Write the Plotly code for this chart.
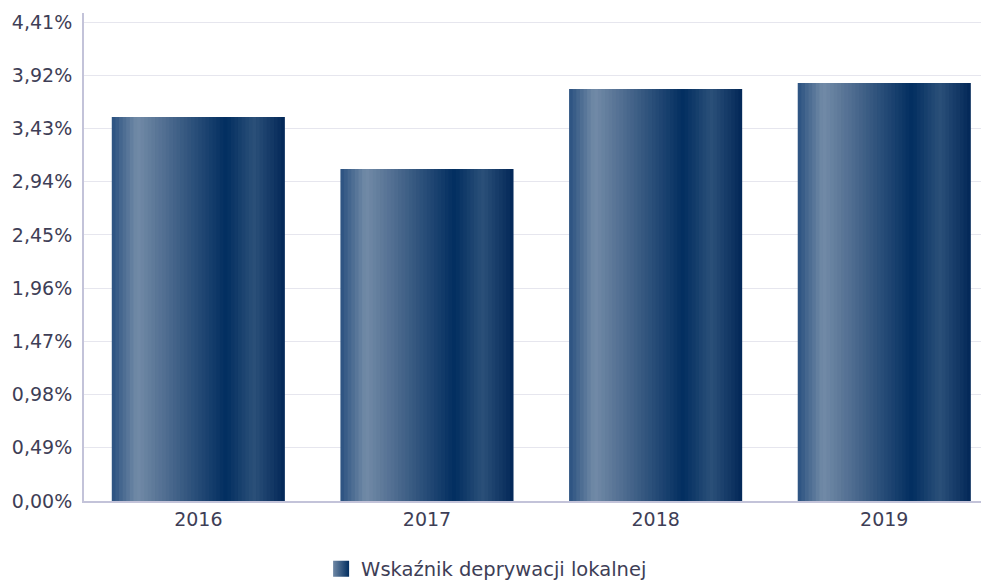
import plotly.graph_objects as go

# ---- data ----
years = ["2016", "2017", "2018", "2019"]
values = [3.535, 3.057, 3.794, 3.849]  # percent
series_name = "Wskaźnik deprywacji lokalnej"
tick_step = 0.49
tick_max = 4.41

# ---- gradient style (horizontal "cylinder" look) ----
grad_stops = [
    (0.00, (0x2a, 0x51, 0x80)),
    (0.146, (0x72, 0x8b, 0xa7)),
    (0.30, (0x52, 0x6f, 0x92)),
    (0.66, (0x02, 0x2e, 0x60)),
    (0.82, (0x2b, 0x50, 0x79)),
    (1.00, (0x02, 0x27, 0x57)),
]


def grad_color(t):
    for (p0, c0), (p1, c1) in zip(grad_stops[:-1], grad_stops[1:]):
        if p0 <= t <= p1:
            f = (t - p0) / (p1 - p0) if p1 > p0 else 0
            r, g, b = (round(a + (b_ - a) * f) for a, b_ in zip(c0, c1))
            return f"rgb({r},{g},{b})"
    r, g, b = grad_stops[-1][1]
    return f"rgb({r},{g},{b})"


bar_w = 0.757
n_strips = 48
step = bar_w / n_strips

fig = go.Figure()
for i in range(n_strips):
    t = (i + 0.5) / n_strips
    w = step * (1.6 if i < n_strips - 1 else 1.0)
    fig.add_trace(go.Bar(
        x=years,
        y=values,
        width=[w] * len(years),
        offset=[-bar_w / 2 + i * step] * len(years),
        marker=dict(color=grad_color(t), line=dict(width=0)),
        name=series_name,
        legendgroup="g",
        showlegend=False,
        hovertemplate="%{x}: %{y:.2f}%<extra></extra>",
    ))

# legend entry (gradient square icon), no visible marks
fig.add_trace(go.Scatter(
    x=[None], y=[None],
    mode="markers",
    name=series_name,
    legendgroup="g",
    showlegend=True,
    marker=dict(
        symbol="square",
        size=20,
        color="#6f88a5",
        gradient=dict(type="horizontal", color="#022e60"),
        line=dict(width=0),
    ),
    hoverinfo="skip",
))

text_color = "#3e3e56"
font_family = "DejaVu Sans"
fig.update_layout(
    width=981,
    height=574,
    margin=dict(l=76, r=0, t=5, b=81),
    paper_bgcolor="white",
    plot_bgcolor="white",
    separators=", ",
    barmode="overlay",
    font=dict(family=font_family, size=19, color=text_color),
    showlegend=True,
    legend=dict(
        orientation="h",
        x=0.262, xanchor="left",
        yref="container",
        y=0.0226, yanchor="middle",
        font=dict(family=font_family, size=19.5, color=text_color),
        itemwidth=30,
        itemsizing="trace",
    ),
    xaxis=dict(
        type="category",
        range=[-0.5, 3.458],
        showgrid=False,
        showline=True,
        linecolor="#c3c3d9",
        linewidth=2,
        ticks="",
        tickfont=dict(family=font_family, size=19, color=text_color),
        fixedrange=True,
    ),
    yaxis=dict(
        range=[0, 4.493],
        tick0=0,
        dtick=tick_step,
        tickformat=".2f",
        ticksuffix="%",
        showgrid=True,
        gridcolor="#e6e6ee",
        gridwidth=1,
        showline=True,
        linecolor="#c3c3d9",
        linewidth=2,
        zeroline=False,
        ticks="",
        ticklabelstandoff=6,
        tickfont=dict(family=font_family, size=19, color=text_color),
        fixedrange=True,
    ),
)

fig.write_html("out.html")
